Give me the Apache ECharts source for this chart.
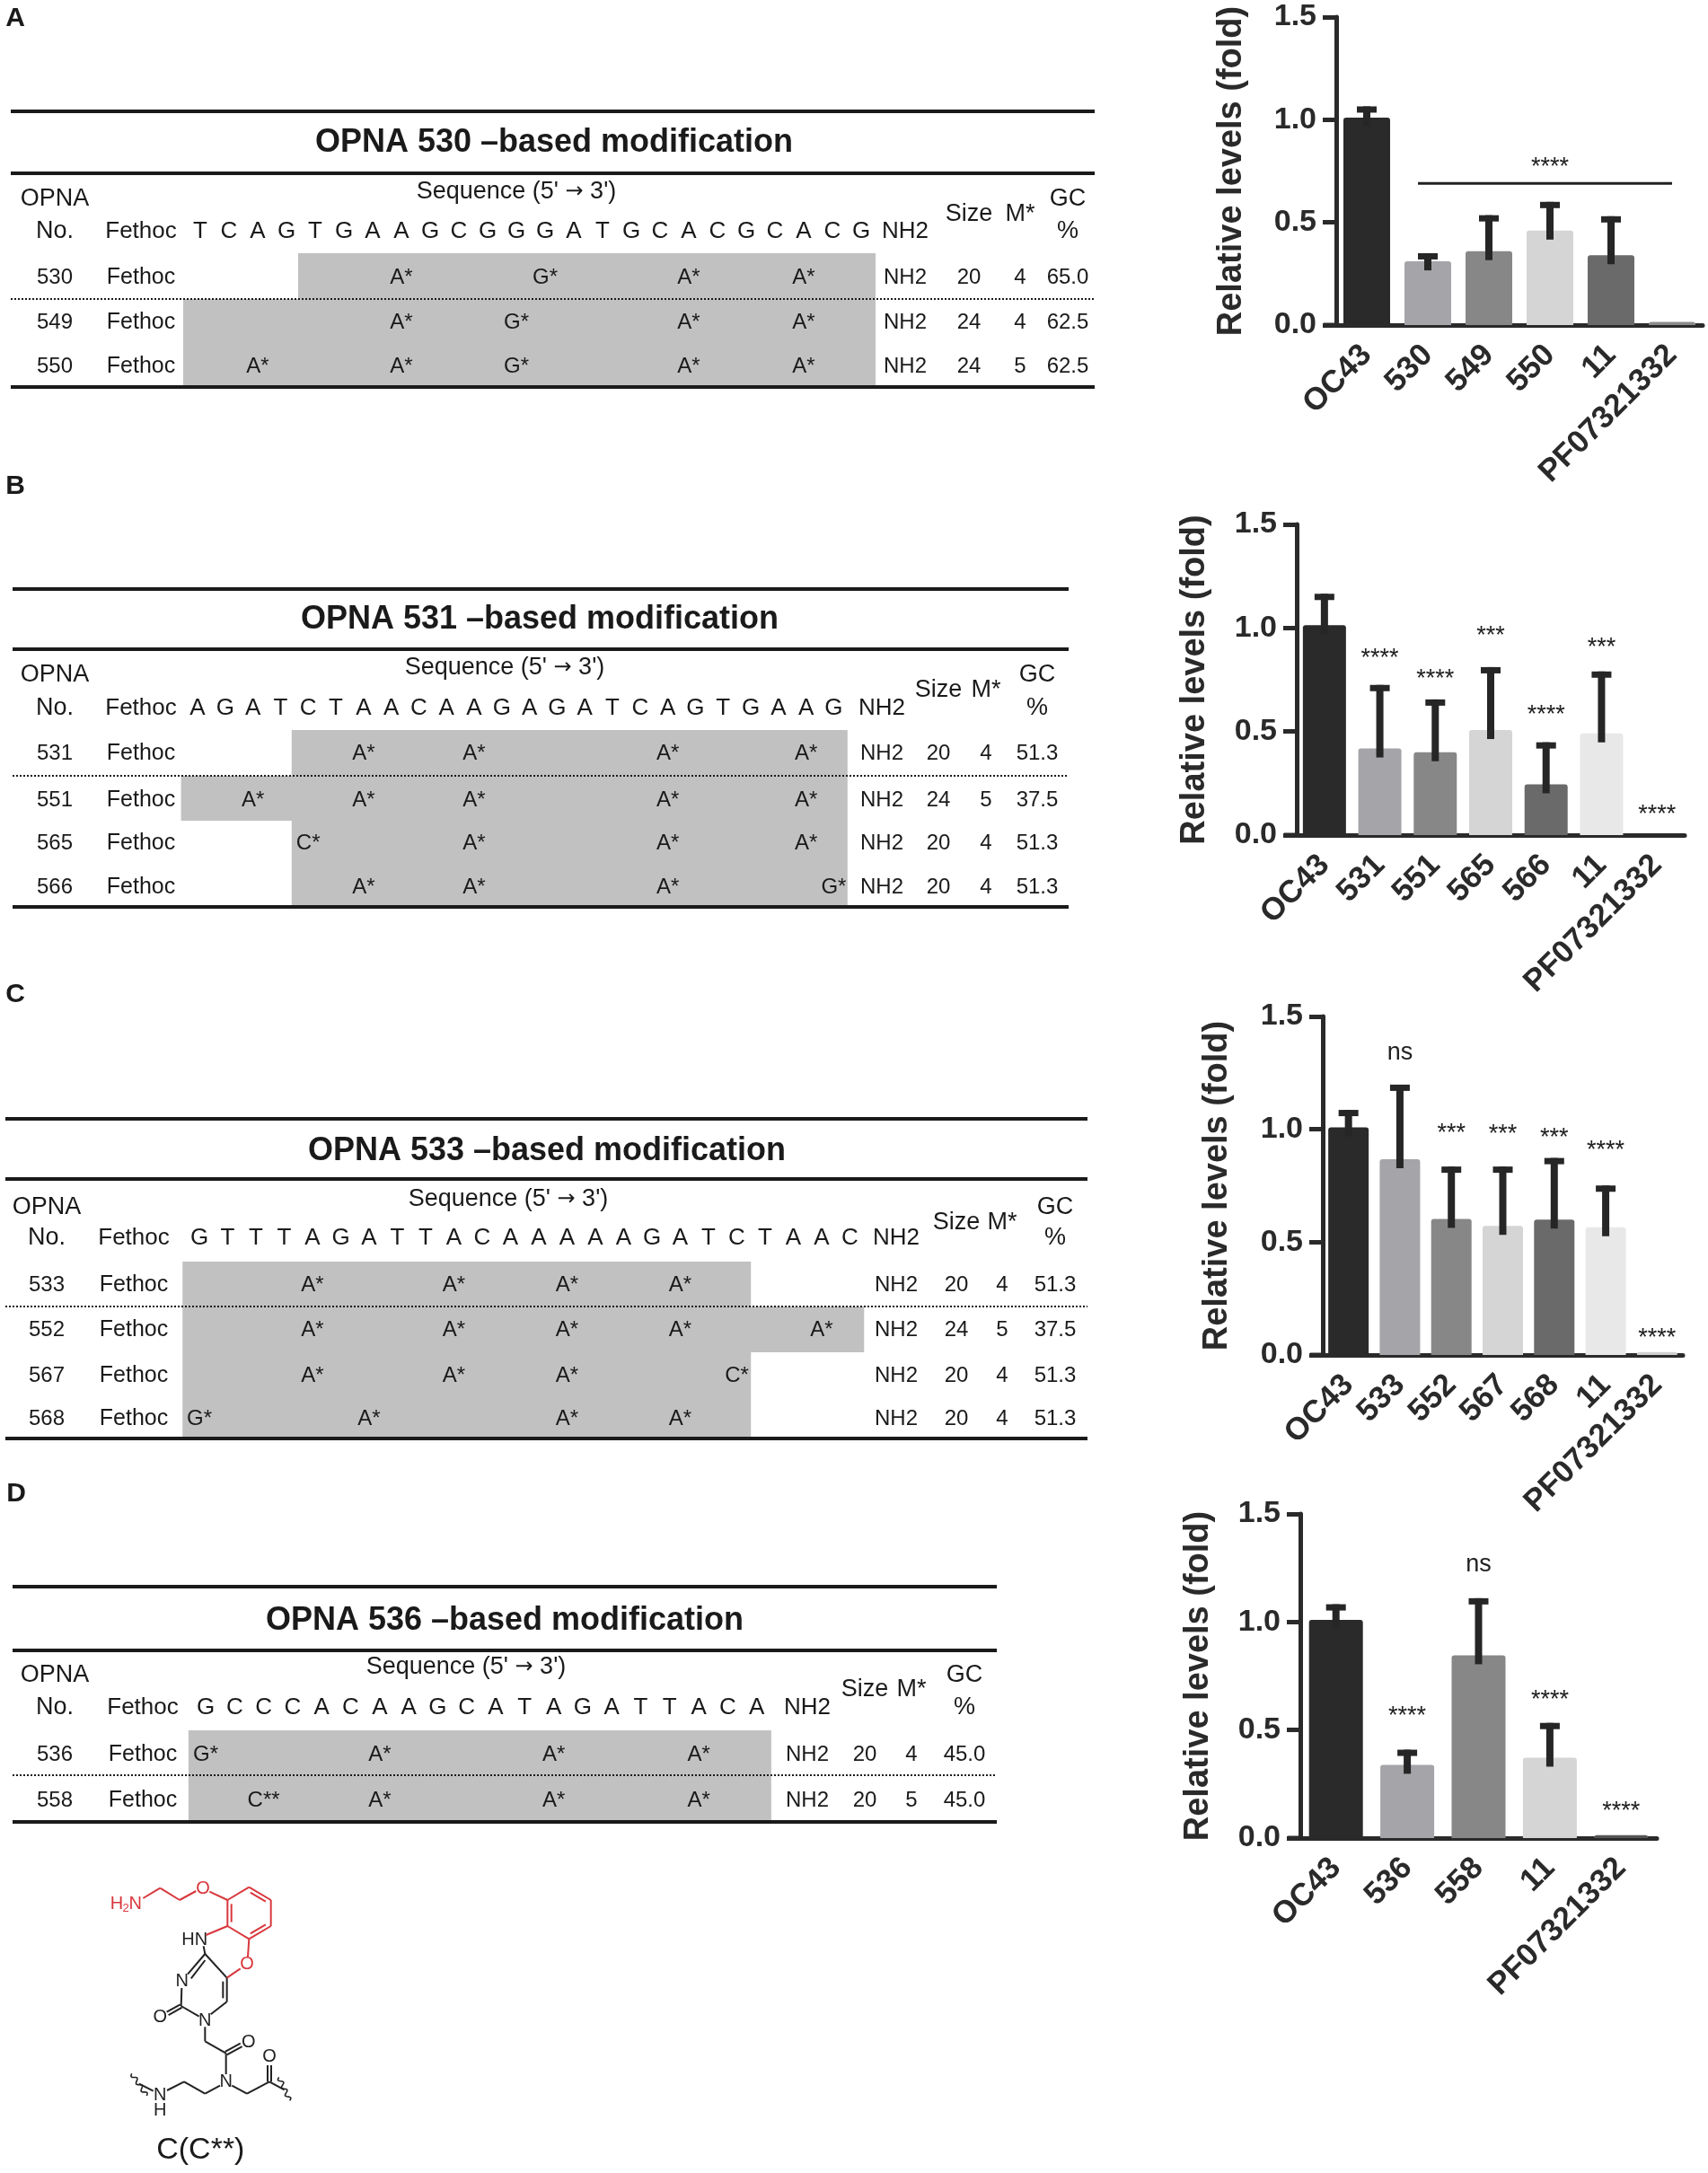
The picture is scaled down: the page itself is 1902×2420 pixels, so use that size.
<!DOCTYPE html>
<html><head><meta charset="utf-8">
<script src="https://cdn.jsdelivr.net/npm/echarts@6/dist/echarts.min.js"></script>
<style>html,body{margin:0;padding:0;background:#fff}#c{width:1902px;height:2420px}</style>
</head><body><div id="c"></div>
<script>
// ================= BAR CHART DATA =================
const catsA = ['OC43','530','549','550','11','PF07321332'];
const meanA = [1.01, 0.31, 0.36, 0.46, 0.34, 0.015];
const errA  = [1.065, 0.35, 0.535, 0.60, 0.53, 0.015];
const sigA  = ['', '', '', '****', '', ''];
const sigYA = [null, null, null, 0.80, null, null];
const bracketA = [1, 5, 0.69];

const catsB = ['OC43','531','551','565','566','11','PF07321332'];
const meanB = [1.013, 0.418, 0.40, 0.507, 0.245, 0.491, 0];
const errB  = [1.165, 0.725, 0.655, 0.811, 0.448, 0.79, 0];
const sigB  = ['', '****', '****', '***', '****', '***', '****'];
const sigYB = [null, 0.88, 0.784, 0.99, 0.608, 0.932, 0.128];

const catsC = ['OC43','533','552','567','568','11','PF07321332'];
const meanC = [1.009, 0.867, 0.603, 0.572, 0.60, 0.566, 0.013];
const errC  = [1.086, 1.198, 0.835, 0.835, 0.873, 0.751, 0.013];
const sigC  = ['', 'ns', '***', '***', '***', '****', '****'];
const sigYC = [null, 1.34, 1.01, 1.006, 0.99, 0.932, 0.103];

const catsD = ['OC43','536','558','11','PF07321332'];
const meanD = [1.01, 0.339, 0.846, 0.372, 0.013];
const errD  = [1.082, 0.409, 1.11, 0.533, 0.013];
const sigD  = ['', '****', 'ns', '****', '****'];
const sigYD = [null, 0.593, 1.264, 0.667, 0.152];

const yTicks = [0, 0.5, 1.0, 1.5];

// ================= TABLE DATA =================
const seqA  = 'TCAGTGAAGCGGGATGCACGCACG'.split('');
const idsA  = ['530','549','550'];
const spanA = [[4,23],[0,23],[0,23]];
const modsA = [[[7,'A*'],[12,'G*'],[17,'A*'],[21,'A*']],
               [[7,'A*'],[11,'G*'],[17,'A*'],[21,'A*']],
               [[2,'A*'],[7,'A*'],[11,'G*'],[17,'A*'],[21,'A*']]];
const sizeA = ['20','24','24'];
const mA    = ['4','4','5'];
const gcA   = ['65.0','62.5','62.5'];

const seqB  = 'AGATCTAACAAGAGATCAGTGAAG'.split('');
const idsB  = ['531','551','565','566'];
const spanB = [[4,23],[0,23],[4,23],[4,23]];
const modsB = [[[6,'A*'],[10,'A*'],[17,'A*'],[22,'A*']],
               [[2,'A*'],[6,'A*'],[10,'A*'],[17,'A*'],[22,'A*']],
               [[4,'C*'],[10,'A*'],[17,'A*'],[22,'A*']],
               [[6,'A*'],[10,'A*'],[17,'A*'],[23,'G*']]];
const sizeB = ['20','24','20','20'];
const mB    = ['4','5','4','4'];
const gcB   = ['51.3','37.5','51.3','51.3'];

const seqC  = 'GTTTAGATTACAAAAAGATCTAAC'.split('');
const idsC  = ['533','552','567','568'];
const spanC = [[0,19],[0,23],[0,19],[0,19]];
const modsC = [[[4,'A*'],[9,'A*'],[13,'A*'],[17,'A*']],
               [[4,'A*'],[9,'A*'],[13,'A*'],[17,'A*'],[22,'A*']],
               [[4,'A*'],[9,'A*'],[13,'A*'],[19,'C*']],
               [[0,'G*'],[6,'A*'],[13,'A*'],[17,'A*']]];
const sizeC = ['20','24','20','20'];
const mC    = ['4','5','4','4'];
const gcC   = ['51.3','37.5','51.3','51.3'];

const seqD  = 'GCCCACAAGCATAGATTACA'.split('');
const idsD  = ['536','558'];
const spanD = [[0,19],[0,19]];
const modsD = [[[0,'G*'],[6,'A*'],[12,'A*'],[17,'A*']],
               [[2,'C**'],[6,'A*'],[12,'A*'],[17,'A*']]];
const sizeD = ['20','20'];
const mD    = ['4','5'];
const gcD   = ['45.0','45.0'];

// ================= LAYOUT / STYLE =================
const FF = '"Liberation Sans", Arial, Helvetica, sans-serif';
const AX = '#2a2a2a';
const colA = ['#2a2a2a','#a4a4a9','#878787','#d5d5d5','#6a6a6a','#8c8c8c'];
const colB = ['#2a2a2a','#a4a4a9','#878787','#d5d5d5','#6a6a6a','#e8e8e8','#8c8c8c'];
const colC = ['#2a2a2a','#a4a4a9','#878787','#d5d5d5','#6a6a6a','#e8e8e8','#d0d0d0'];
const colD = ['#2a2a2a','#a4a4a9','#878787','#d5d5d5','#555555'];

const charts = [
  {cats:catsA, mean:meanA, err:errA, col:colA, sig:sigA, sigY:sigYA, bracket:bracketA,
   grid:{left:1488, top:19, width:408, height:343}, bw:52, nameGap:97},
  {cats:catsB, mean:meanB, err:errB, col:colB, sig:sigB, sigY:sigYB,
   grid:{left:1444, top:584, width:432, height:346}, bw:48, nameGap:94},
  {cats:catsC, mean:meanC, err:errC, col:colC, sig:sigC, sigY:sigYC,
   grid:{left:1473, top:1132, width:401, height:377}, bw:45, nameGap:98},
  {cats:catsD, mean:meanD, err:errD, col:colD, sig:sigD, sigY:sigYD,
   grid:{left:1448, top:1686, width:397, height:361}, bw:60, nameGap:94}
];

const LA = {yTop:124, yTitle:159, yLine2:193, ySeq:214, yH1:222, yHm:239, yH2:258,
  rowY:[309,359,408], rowB:[282,333,383,431], x0:12, x1:1219, colNo:61, colF:157,
  sx0:223, sdx:32.0, colNH2:1008, colSize:1079, colM:1136, colGC:1189, titleX:617, seqX:575};
const LB = {yTop:656, yTitle:690, yLine2:723, ySeq:744, yH1:752, yHm:769, yH2:789,
  rowY:[839,891,939,988], rowB:[813,864,914,963,1010], x0:14, x1:1190, colNo:61, colF:157,
  sx0:220, sdx:30.8, colNH2:982, colSize:1045, colM:1098, colGC:1155, titleX:601, seqX:562};
const LC = {yTop:1246, yTitle:1282, yLine2:1313, ySeq:1336, yH1:1345, yHm:1362, yH2:1379,
  rowY:[1431,1481,1532,1580], rowB:[1405,1455,1506,1556,1602], x0:6, x1:1211, colNo:52, colF:149,
  sx0:222, sdx:31.5, colNH2:998, colSize:1065, colM:1116, colGC:1175, titleX:609, seqX:566};
const LD = {yTop:1767, yTitle:1805, yLine2:1838, ySeq:1857, yH1:1866, yHm:1882, yH2:1902,
  rowY:[1954,2005], rowB:[1927,1977,2029], x0:14, x1:1110, colNo:61, colF:159,
  sx0:229, sdx:32.3, colNH2:899, colSize:963, colM:1015, colGC:1074, titleX:562, seqX:519};

// ================= GRAPHIC: TABLES =================
const G = [];
function txt(text, x, y, size, bold, align, color, family) {
  G.push({type:'text', silent:true, z:10, style:{text:text, x:x, y:y,
    textAlign:align||'center', textVerticalAlign:'middle', align:align||'center', verticalAlign:'middle',
    font:(bold?'bold ':'') + size + 'px ' + (family||FF), fill:color||'#1a1a1a'}});
}
function ln(x1, y1, x2, y2, w, color, dash) {
  G.push({type:'line', silent:true, z:9, shape:{x1:x1, y1:y1, x2:x2, y2:y2},
    style:{stroke:color||'#1a1a1a', lineWidth:w, lineDash:dash||null}});
}
function table(L, title, seq, ids, spans, mods, sizes, ms, gcs) {
  const sx = i => L.sx0 + i * L.sdx;
  ids.forEach((id, r) => {
    const a = spans[r][0], b = spans[r][1];
    G.push({type:'rect', silent:true, z:5, shape:{x:sx(a) - L.sdx/2 - 3, y:L.rowB[r],
      width:(sx(b) - sx(a)) + L.sdx + 3, height:L.rowB[r+1] - L.rowB[r]}, style:{fill:'#c1c1c1'}});
  });
  ln(L.x0, L.yTop, L.x1, L.yTop, 4);
  ln(L.x0, L.yLine2, L.x1, L.yLine2, 4);
  ln(L.x0, L.rowB[1], L.x1, L.rowB[1], 2, '#1a1a1a', [2, 2]);
  ln(L.x0, L.rowB[L.rowB.length-1], L.x1, L.rowB[L.rowB.length-1], 4);
  txt(title, L.titleX, L.yTitle, 36, true);
  G.push({type:'text', silent:true, z:10, style:{
    text:'{a|Sequence (5\' }{b|\u2192}{a| 3\')}', x:L.seqX, y:L.ySeq,
    textAlign:'center', textVerticalAlign:'middle', align:'center', verticalAlign:'middle',
    font:'27px ' + FF, fill:'#1a1a1a',
    rich:{a:{fontSize:27, fontFamily:FF, fill:'#1a1a1a', color:'#1a1a1a'},
          b:{fontSize:24, fontFamily:'"DejaVu Sans", sans-serif', fill:'#1a1a1a', color:'#1a1a1a'}}}});
  txt('OPNA', L.colNo, L.yH1, 27);
  txt('No.', L.colNo, L.yH2, 27);
  txt('Fethoc', L.colF, L.yH2, 26);
  seq.forEach((s, i) => txt(s, sx(i), L.yH2, 26));
  txt('NH2', L.colNH2, L.yH2, 26);
  txt('Size', L.colSize, L.yHm, 27);
  txt('M*', L.colM, L.yHm, 27);
  txt('GC', L.colGC, L.yH1, 27);
  txt('%', L.colGC, L.yH2, 27);
  ids.forEach((id, r) => {
    const y = L.rowY[r];
    txt(id, L.colNo, y, 24);
    txt('Fethoc', L.colF, y, 25);
    mods[r].forEach(m => txt(m[1], sx(m[0]), y, 24));
    txt('NH2', L.colNH2, y, 24);
    txt(sizes[r], L.colSize, y, 24);
    txt(ms[r], L.colM, y, 24);
    txt(gcs[r], L.colGC, y, 24);
  });
}
table(LA, 'OPNA 530 \u2013based modification', seqA, idsA, spanA, modsA, sizeA, mA, gcA);
table(LB, 'OPNA 531 \u2013based modification', seqB, idsB, spanB, modsB, sizeB, mB, gcB);
table(LC, 'OPNA 533 \u2013based modification', seqC, idsC, spanC, modsC, sizeC, mC, gcC);
table(LD, 'OPNA 536 \u2013based modification', seqD, idsD, spanD, modsD, sizeD, mD, gcD);

// panel letters
txt('A', 17, 21, 30, true);
txt('B', 17, 542, 30, true);
txt('C', 17, 1108, 30, true);
txt('D', 18, 1664, 30, true);

// x-axis left overhang (GraphPad style)
charts.forEach(c => ln(c.grid.left - 14, c.grid.top + c.grid.height, c.grid.left, c.grid.top + c.grid.height, 5, AX));

// ================= GRAPHIC: STRUCTURE =================
const S = (px, py) => [100 + px/3, 2070 + py/3];
const RED = '#d8373c', BLK = '#222';
function bond(a, b, color) {
  const p = S(a[0], a[1]), q = S(b[0], b[1]);
  G.push({type:'line', silent:true, z:10, shape:{x1:p[0], y1:p[1], x2:q[0], y2:q[1]}, style:{stroke:color, lineWidth:2}});
}
function inner(a, b, c, color) {
  const dx = b[0]-a[0], dy = b[1]-a[1], L = Math.hypot(dx, dy);
  let nx = -dy/L, ny = dx/L;
  const mx = (a[0]+b[0])/2, my = (a[1]+b[1])/2;
  if ((c[0]-mx)*nx + (c[1]-my)*ny < 0) { nx = -nx; ny = -ny; }
  const o = 13, s = 0.15;
  bond([a[0]+dx*s+nx*o, a[1]+dy*s+ny*o], [b[0]-dx*s+nx*o, b[1]-dy*s+ny*o], color);
}
function twin(a, b, color) {
  const dx = b[0]-a[0], dy = b[1]-a[1], L = Math.hypot(dx, dy);
  const nx = -dy/L*6, ny = dx/L*6;
  bond([a[0]+nx, a[1]+ny], [b[0]+nx, b[1]+ny], color);
  bond([a[0]-nx, a[1]-ny], [b[0]-nx, b[1]-ny], color);
}
function wavy(a, b) {
  const pts = [];
  const dx = b[0]-a[0], dy = b[1]-a[1], L = Math.hypot(dx, dy);
  const nx = -dy/L, ny = dx/L;
  for (let k = 0; k <= 40; k++) {
    const t = k/40, w = Math.sin(t*Math.PI*6)*7;
    pts.push(S(a[0]+dx*t+nx*w, a[1]+dy*t+ny*w));
  }
  G.push({type:'polyline', silent:true, z:10, shape:{points:pts}, style:{stroke:BLK, lineWidth:1.6, fill:null}});
}
function atom(t, px, py, color, size) {
  const p = S(px, py);
  txt(t, p[0], p[1], size||20, false, 'center', color);
}
atom('H', 90, 150, RED); atom('2', 120, 165, RED, 13); atom('N', 152, 150, RED);
bond([178,132],[235,98],RED); bond([235,98],[300,138],RED); bond([300,138],[355,108],RED);
atom('O', 378, 100, RED);
bond([400,110],[460,138],RED);
const ring = [[532,95],[605,138],[605,225],[532,268],[460,225],[460,138]];
for (let k = 0; k < 6; k++) bond(ring[k], ring[(k+1)%6], RED);
const rc = [532,182];
inner(ring[0], ring[1], rc, RED); inner(ring[2], ring[3], rc, RED); inner(ring[4], ring[5], rc, RED);
atom('HN', 350, 270, BLK);
bond([388,255],[460,225],RED);
const C4=[385,318], C5=[458,398], C6=[458,478], C2=[305,492];
const pc = [383,430];
bond([380,292], C4, BLK);
bond(C4, [327,386], BLK); inner(C4, [318,405], pc, BLK);
atom('N', 308, 408, BLK);
bond(C4, C5, BLK);
bond(C5, C6, BLK); inner(C5, C6, pc, BLK);
bond(C6, [404,520], BLK);
atom('N', 385, 540, BLK);
bond([365,527], C2, BLK);
bond(C2, [307,432], BLK);
twin(C2, [260,517], BLK);
atom('O', 235, 530, BLK);
bond(C5, [503,367], RED);
atom('O', 525, 352, RED);
bond([528,328], ring[3], RED);
bond([385,562],[385,610],BLK); bond([385,610],[455,650],BLK);
twin([455,650],[506,622],BLK); atom('O', 530, 612, BLK);
bond([455,650],[455,720],BLK); atom('N', 455, 745, BLK);
bond([435,758],[385,785],BLK); bond([385,785],[315,745],BLK); bond([315,745],[258,774],BLK);
atom('N', 235, 790, BLK); atom('H', 235, 842, BLK);
bond([212,776],[165,752],BLK); wavy([140,718],[190,792]);
bond([475,758],[525,785],BLK); bond([525,785],[600,745],BLK);
twin([600,745],[600,690],BLK); atom('O', 600, 662, BLK);
bond([600,745],[650,772],BLK); wavy([632,730],[668,808]);
const cap = S(370, 975);
txt('C(C**)', cap[0], cap[1], 34, false, 'center', '#1a1a1a');

// ================= ECHARTS OPTION =================
const grids = [], xAxes = [], yAxes = [], series = [];
charts.forEach((c, k) => {
  grids.push(Object.assign({containLabel:false}, c.grid));
  xAxes.push({gridIndex:k, type:'category', data:c.cats,
    axisLine:{onZero:true, lineStyle:{color:AX, width:5}},
    axisTick:{alignWithLabel:true, length:13, lineStyle:{color:AX, width:5}},
    axisLabel:{interval:0, rotate:45, fontSize:35, fontWeight:'bold', fontFamily:FF, color:AX, margin:28}});
  yAxes.push({gridIndex:k, type:'value', min:yTicks[0], max:yTicks[yTicks.length-1], interval:0.5,
    name:'Relative levels (fold)', nameLocation:'middle', nameGap:c.nameGap,
    nameTextStyle:{fontSize:38, fontWeight:'bold', fontFamily:FF, color:AX},
    axisLine:{show:true, lineStyle:{color:AX, width:5}},
    axisTick:{show:true, length:15, lineStyle:{color:AX, width:5}},
    splitLine:{show:false},
    axisLabel:{fontSize:34, fontWeight:'bold', fontFamily:FF, color:AX, margin:22, formatter:v => v.toFixed(1)}});
  series.push({type:'bar', xAxisIndex:k, yAxisIndex:k, barWidth:c.bw, silent:true, z:2,
    data:c.mean.map((v, j) => ({value:v, itemStyle:{color:c.col[j], borderRadius:[3,3,0,0]}}))});
  series.push({type:'custom', xAxisIndex:k, yAxisIndex:k, silent:true, z:3,
    data:c.mean.map((v, j) => [j, v, c.err[j]]),
    renderItem:(params, api) => {
      const j = api.value(0), v = api.value(1), e = api.value(2);
      if (e - v < 0.004) return null;
      const top = api.coord([j, e]), base = api.coord([j, v]);
      return {type:'group', children:[
        {type:'rect', shape:{x:top[0]-4, y:top[1], width:8, height:base[1]-top[1]+10}, style:{fill:'#262626'}},
        {type:'rect', shape:{x:top[0]-11, y:top[1], width:22, height:7}, style:{fill:'#262626'}}]};
    }});
  const items = [];
  c.sig.forEach((s, j) => { if (s) items.push({j:j, s:s, y:c.sigY[j]}); });
  series.push({type:'custom', xAxisIndex:k, yAxisIndex:k, silent:true, z:4,
    data:items.map(it => [it.j, it.y]),
    renderItem:(params, api) => {
      const it = items[params.dataIndex];
      const p = api.coord([api.value(0), api.value(1)]);
      const star = it.s.indexOf('*') >= 0;
      return {type:'text', style:{text:it.s, x:p[0], y:p[1] + (star ? 7 : 0),
        textAlign:'center', textVerticalAlign:'middle', align:'center', verticalAlign:'middle',
        font:'27px ' + FF, fill:'#222'}};
    }});
  if (c.bracket) {
    series.push({type:'custom', xAxisIndex:k, yAxisIndex:k, silent:true, z:4,
      data:[[c.bracket[0], c.bracket[1], c.bracket[2]]],
      renderItem:(params, api) => {
        const p1 = api.coord([api.value(0), api.value(2)]);
        const p2 = api.coord([api.value(1), api.value(2)]);
        return {type:'line', shape:{x1:p1[0]-11, y1:p1[1], x2:p2[0], y2:p2[1]}, style:{stroke:'#222', lineWidth:3}};
      }});
  }
});

const chart = echarts.init(document.getElementById('c'), null, {renderer:'canvas', width:1902, height:2420});
chart.setOption({
  animation:false,
  backgroundColor:'#ffffff',
  grid:grids, xAxis:xAxes, yAxis:yAxes, series:series,
  graphic:{elements:G}
});
</script>
</body></html>
